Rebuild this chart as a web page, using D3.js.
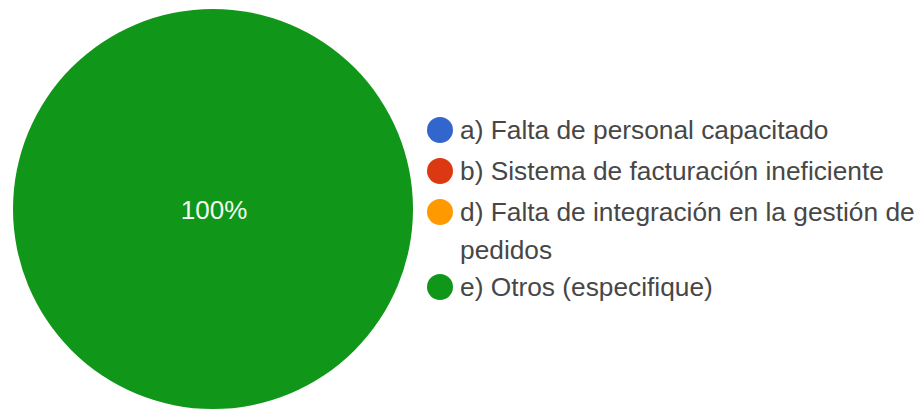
<!DOCTYPE html>
<html>
<head>
<meta charset="utf-8">
<script src="https://cdn.jsdelivr.net/npm/d3@7"></script>
<style>
  html, body { margin: 0; padding: 0; background: #ffffff; }
  svg { display: block; }
</style>
</head>
<body>
<svg id="chart" width="916" height="410"></svg>
<script>
// Survey answers: response categories and how many picked each
const categories = [
  "a) Falta de personal capacitado",
  "b) Sistema de facturación ineficiente",
  "d) Falta de integración en la gestión de pedidos",
  "e) Otros (especifique)"
];
const responses = [0, 0, 0, 1];
const colors = ["#3366cc", "#dc3912", "#ff9900", "#109618"];

const svg = d3.select("#chart");
const cx = 213, cy = 209, radius = 200;

const data = categories.map((c, i) => ({ label: c, value: responses[i], color: colors[i] }));
const total = d3.sum(responses);

const pie = d3.pie().sort(null).value(d => d.value);
const arc = d3.arc().innerRadius(0).outerRadius(radius);
const arcs = pie(data);

const g = svg.append("g").attr("transform", `translate(${cx},${cy})`);

g.selectAll("path.slice")
  .data(arcs.filter(a => a.data.value > 0))
  .join("path")
  .attr("class", "slice")
  .attr("d", arc)
  .attr("fill", d => d.data.color);

// Percentage labels; a slice covering the full circle is labelled at the centre
const fmt = d3.format(".0%");
g.selectAll("text.pct")
  .data(arcs.filter(a => a.data.value > 0))
  .join("text")
  .attr("class", "pct")
  .attr("transform", d => {
    const full = (d.endAngle - d.startAngle) >= 2 * Math.PI - 1e-6;
    const p = full ? [0, 0] : d3.arc().innerRadius(radius * 0.6).outerRadius(radius * 0.6).centroid(d);
    return `translate(${p[0] + 1},${p[1] + 10})`;
  })
  .attr("text-anchor", "middle")
  .attr("font-family", "Liberation Sans, Arial, sans-serif")
  .attr("font-size", 26)
  .attr("fill", "#f2fbf2")
  .text(d => fmt(d.data.value / total));

// Legend
const legendX = 440, legendTop = 130, rowGap = 41, lineGap = 38, maxTextWidth = 470;
const legend = svg.append("g")
  .attr("font-family", "Liberation Sans, Arial, sans-serif")
  .attr("font-size", 26.3)
  .attr("fill", "#474747");

let y = legendTop;
data.forEach(d => {
  const item = legend.append("g").attr("transform", `translate(0,${y})`);
  item.append("circle").attr("cx", legendX).attr("cy", 0).attr("r", 13).attr("fill", d.color);
  const text = item.append("text").attr("x", legendX + 20).attr("y", 9);
  // wrap words into lines that fit the available width
  const words = d.label.split(" ");
  let line = [], lineNo = 0;
  let tspan = text.append("tspan").attr("x", legendX + 20).attr("dy", 0);
  words.forEach(w => {
    line.push(w);
    tspan.text(line.join(" "));
    if (tspan.node().getComputedTextLength() > maxTextWidth && line.length > 1) {
      line.pop();
      tspan.text(line.join(" "));
      line = [w];
      lineNo++;
      tspan = text.append("tspan").attr("x", legendX + 20).attr("dy", lineGap).text(w);
    }
  });
  y += rowGap + lineNo * lineGap - (lineNo ? 4 : 0);
});
</script>
</body>
</html>
